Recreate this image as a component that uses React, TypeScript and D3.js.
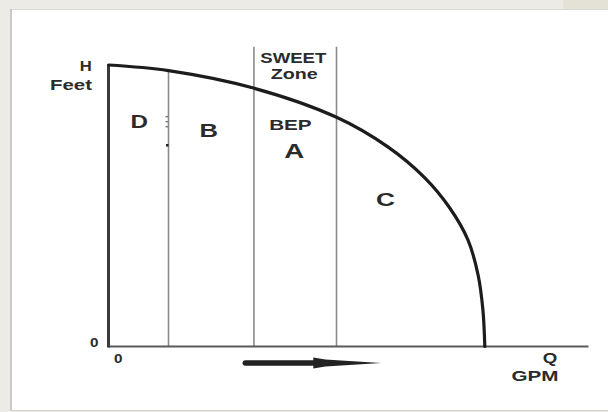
import React from "react";
import * as d3 from "d3";

// Pump curve (normalized units: Q 0..100, H 0..100)
const curveQ = [0, 12.5, 30.2, 47.4, 58.2, 65.9, 71.1, 74.9, 77.0, 78.0, 78.4];
const curveH = [100, 98.0, 91.8, 81.5, 70.9, 59.9, 49.2, 37.8, 25.4, 13.0, 0];

// Zone boundaries (Q) and their top (H) — first starts at the curve
const zoneQ = [12.5, 30.3, 47.5];
const zoneTopH = [98.2, 106.5, 106.5];

// Region labels
const regionLabels = ["D", "B", "BEP", "A", "C", "SWEET", "Zone"];
const regionQ = [6.4, 20.9, 37.9, 38.7, 57.7, 38.5, 38.7];
const regionH = [79.8, 76.9, 78.7, 69.3, 52.2, 102.4, 96.8];
const regionSize = [19, 19, 15, 20, 19, 14, 14];
const regionWidth = [17.5, 18.5, 42.5, 20, 19, 66, 47];

// Arrow along Q
const arrowQ = [28.5, 43.5, 56.8];

const W = 608;
const H = 412;

export default function App() {
  const x = d3.scaleLinear().domain([0, 100]).range([108.5, 588.5]);
  const y = d3.scaleLinear().domain([0, 100]).range([346.5, 65]);

  const line = d3
    .line<number>()
    .x((_, i) => x(curveQ[i]))
    .y((_, i) => y(curveH[i]))
    .curve(d3.curveCatmullRom.alpha(0.5));

  const font = "'Liberation Sans', Arial, sans-serif";
  const textColor = "#2b2b2b";

  const ay = 363;
  const a0 = x(arrowQ[0]);
  const a1 = x(arrowQ[1]);
  const a2 = x(arrowQ[2]);

  const lbl = (
    t: string,
    cx: number,
    cy: number,
    size: number,
    width: number,
    key: string
  ) => (
    <text
      key={key}
      x={cx}
      y={cy}
      textAnchor="middle"
      dominantBaseline="central"
      fontFamily={font}
      fontWeight="bold"
      fontSize={size}
      fill={textColor}
      textLength={width}
      lengthAdjust="spacingAndGlyphs"
    >
      {t}
    </text>
  );

  return (
    <svg
      width={W}
      height={H}
      style={{ position: "absolute", left: 0, top: 0 }}
      viewBox={`0 0 ${W} ${H}`}
    >
      {/* page background with panel */}
      <rect x={0} y={0} width={W} height={H} fill="#ecebe6" />
      <rect x={563} y={0} width={45} height={9} fill="#e4e1d6" />
      <rect x={10} y={9} width={W - 10} height={401} fill="#ffffff" />
      <line x1={10} y1={9.5} x2={W} y2={9.5} stroke="#d9d9d6" strokeWidth={1} />
      <line x1={11} y1={9} x2={11} y2={410} stroke="#c9c9c9" strokeWidth={2} />
      <line x1={10} y1={410.5} x2={W} y2={410.5} stroke="#d2d2d2" strokeWidth={1} />

      {/* zone boundary lines */}
      {zoneQ.map((q, i) => (
        <line
          key={"z" + i}
          x1={x(q)}
          x2={x(q)}
          y1={y(zoneTopH[i])}
          y2={y(0)}
          stroke="#8a8a8a"
          strokeWidth={1.6}
        />
      ))}

      {/* small marks near first boundary */}
      {[116.7, 121.7, 126.7].map((v, i) => (
        <line
          key={"m" + i}
          x1={x(12.5) - 3}
          x2={x(12.5) - 0.5}
          y1={v}
          y2={v}
          stroke="#666"
          strokeWidth={1.2}
        />
      ))}
      <rect x={x(12.5) - 2.5} y={144} width={2.5} height={2.5} fill="#222" />

      {/* axes */}
      <line x1={x(0)} x2={x(100)} y1={y(0)} y2={y(0)} stroke="#5a5a5a" strokeWidth={2.2} />
      <line x1={x(0)} x2={x(0)} y1={y(100)} y2={y(0) + 1} stroke="#3a3a3a" strokeWidth={3} />

      {/* pump curve */}
      <path
        d={line(curveQ) || ""}
        fill="none"
        stroke="#1c1c1c"
        strokeWidth={3.2}
        strokeLinecap="round"
      />

      {/* arrow */}
      <line x1={a0} x2={a1 + 2} y1={ay} y2={ay} stroke="#222" strokeWidth={5.5} strokeLinecap="round" />
      <path
        d={`M${a1 - 4},${ay - 5.5} L${a1 + 8},${ay - 3.5} L${a2},${ay} L${a1 + 8},${ay + 3.5} L${a1 - 4},${ay + 5.5} Z`}
        fill="#222"
      />

      {/* axis labels */}
      {lbl("H", 85.7, 66, 14, 12, "h")}
      {lbl("Feet", 71, 84.5, 14, 42, "feet")}
      {lbl("0", 94.2, 342.5, 12, 8.5, "y0")}
      {lbl("0", 118.2, 359.2, 12, 8.5, "x0")}
      {lbl("Q", 550, 357.5, 14, 14.5, "q")}
      {lbl("GPM", 535, 375.5, 14, 47, "gpm")}

      {/* region labels */}
      {regionLabels.map((t, i) =>
        lbl(t, x(regionQ[i]), y(regionH[i]), regionSize[i], regionWidth[i], "r" + i)
      )}
    </svg>
  );
}
